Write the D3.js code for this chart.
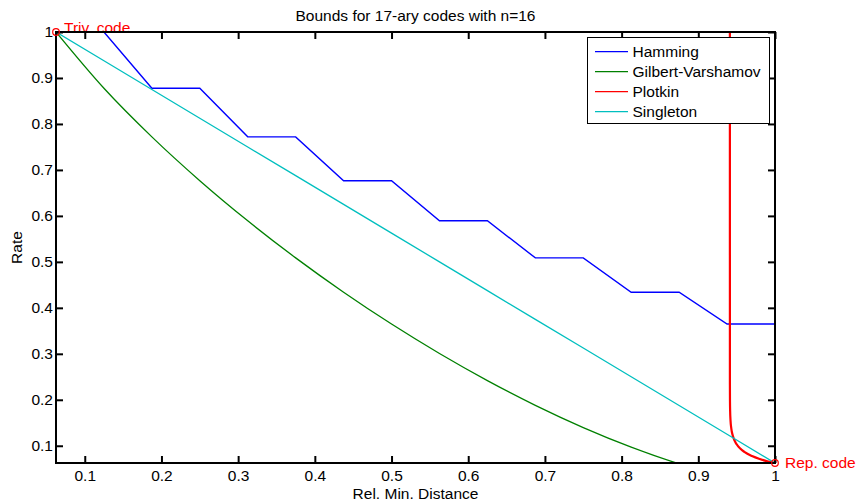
<!DOCTYPE html>
<html>
<head>
<meta charset="utf-8">
<script src="https://cdn.jsdelivr.net/npm/d3@7"></script>
<style>
  html, body { margin: 0; padding: 0; background: #fff; }
  svg { display: block; font-family: "Liberation Sans", Arial, Helvetica, sans-serif; }
</style>
</head>
<body>
<svg id="chart" width="859" height="502"></svg>
<script>
// ---- data (n = 16, q = 17) ----
const relDist = [0.0625, 0.125, 0.1875, 0.25, 0.3125, 0.375, 0.4375, 0.5,
                 0.5625, 0.625, 0.6875, 0.75, 0.8125, 0.875, 0.9375, 1];
const hamming = [1, 1, 0.8776, 0.8776, 0.7719, 0.7719, 0.6766, 0.6766,
                 0.5893, 0.5893, 0.5087, 0.5087, 0.4340, 0.4340, 0.3647, 0.3647];
const gilbertVarshamov = [1, 0.8776, 0.7719, 0.6766, 0.5893, 0.5087, 0.4340, 0.3647,
                          0.3007, 0.2418, 0.1880, 0.1396, 0.0970, 0.0606, 0.0313, 0.0105];
const singleton = [1, 0.9375, 0.875, 0.8125, 0.75, 0.6875, 0.625, 0.5625,
                   0.5, 0.4375, 0.375, 0.3125, 0.25, 0.1875, 0.125, 0.0625];
const plotkinDist = [0.941177, 0.9412, 0.9413, 0.9415, 0.942, 0.943, 0.945, 0.95,
                     0.955, 0.96, 0.97, 0.98, 0.99, 1];
const plotkinRate = [1.05, 0.2338, 0.197, 0.176, 0.1553, 0.1378, 0.1216, 0.1032,
                     0.0934, 0.0867, 0.0776, 0.0712, 0.0664, 0.0625];
const xTicks = [0.1, 0.2, 0.3, 0.4, 0.5, 0.6, 0.7, 0.8, 0.9, 1];
const yTicks = [0.1, 0.2, 0.3, 0.4, 0.5, 0.6, 0.7, 0.8, 0.9, 1];
const seriesNames = ["Hamming", "Gilbert-Varshamov", "Plotkin", "Singleton"];
const seriesColors = ["#0000ff", "#008000", "#ff0000", "#00bfbf"];
const markers = [{x: 0.0625, y: 1, label: "Triv. code"}, {x: 1, y: 0.0625, label: "Rep. code"}];
const titleText = "Bounds for 17-ary codes with n=16";
const xLabelText = "Rel. Min. Distance";
const yLabelText = "Rate";

// ---- layout ----
const L = 56, R = 775, T = 32, B = 463;
const FS = "15.5px";
const svg = d3.select("#chart");
const x = d3.scaleLinear().domain([0.0625, 1]).range([L, R]);
const y = d3.scaleLinear().domain([0.0625, 1]).range([B, T]);

svg.append("defs").append("clipPath").attr("id", "plotclip")
  .append("rect").attr("x", L).attr("y", T).attr("width", R - L).attr("height", B - T);

const line = d3.line().x(d => x(d[0])).y(d => y(d[1]));
const smooth = d3.line().x(d => x(d[0])).y(d => y(d[1])).curve(d3.curveMonotoneX);

const plot = svg.append("g").attr("clip-path", "url(#plotclip)");
const series = [
  {pts: relDist.map((d, i) => [d, hamming[i]]), gen: line, w: 1.4},
  {pts: relDist.map((d, i) => [d, gilbertVarshamov[i]]), gen: smooth, w: 1.3},
  {pts: plotkinDist.map((d, i) => [d, plotkinRate[i]]), gen: smooth, w: 2.2},
  {pts: relDist.map((d, i) => [d, singleton[i]]), gen: line, w: 1.3}
];
series.forEach((s, i) => {
  plot.append("path").attr("d", s.gen(s.pts)).attr("fill", "none")
    .attr("stroke", seriesColors[i]).attr("stroke-width", s.w);
});

// marker labels (drawn below axes)
markers.forEach((m, i) => {
  svg.append("text").attr("x", x(m.x) + (i === 0 ? 8 : 10)).attr("y", i === 0 ? y(m.y) + 1 : y(m.y) + 5)
    .attr("fill", "#ff0000").attr("font-size", FS).text(m.label);
});

// axes
const axBottom = d3.axisBottom(x).tickValues(xTicks).tickFormat(d3.format("")).tickSizeInner(-7).tickSizeOuter(0).tickPadding(7);
const axLeft = d3.axisLeft(y).tickValues(yTicks).tickFormat(d3.format("")).tickSizeInner(-7).tickSizeOuter(0).tickPadding(3);
const axTop = d3.axisTop(x).tickValues(xTicks).tickFormat("").tickSizeInner(-7).tickSizeOuter(0);
const axRight = d3.axisRight(y).tickValues(yTicks).tickFormat("").tickSizeInner(-7).tickSizeOuter(0);

function styleAxis(g) {
  g.select(".domain").remove();
  g.selectAll(".tick line").attr("stroke", "#000").attr("stroke-width", 2);
  g.selectAll(".tick text").attr("fill", "#000").attr("font-size", FS)
    .attr("font-family", "Liberation Sans, Arial, sans-serif");
}
svg.append("g").attr("transform", `translate(0,${B})`).call(axBottom).call(styleAxis);
svg.append("g").attr("transform", `translate(${L},0)`).call(axLeft).call(styleAxis);
svg.append("g").attr("transform", `translate(0,${T})`).call(axTop).call(styleAxis);
svg.append("g").attr("transform", `translate(${R},0)`).call(axRight).call(styleAxis);

svg.append("rect").attr("x", L).attr("y", T).attr("width", R - L).attr("height", B - T)
  .attr("fill", "none").attr("stroke", "#000").attr("stroke-width", 2);

// marker circles
markers.forEach(m => {
  svg.append("circle").attr("cx", x(m.x)).attr("cy", y(m.y)).attr("r", 3.3)
    .attr("fill", "none").attr("stroke", "#ff0000").attr("stroke-width", 1.2);
});

// legend
const lg = svg.append("g");
lg.append("rect").attr("x", 587.5).attr("y", 37.5).attr("width", 182).attr("height", 86)
  .attr("fill", "#fff").attr("stroke", "#000").attr("stroke-width", 1);
seriesNames.forEach((n, i) => {
  const cy = 51.7 + i * 20;
  lg.append("line").attr("x1", 595).attr("x2", 628).attr("y1", cy).attr("y2", cy)
    .attr("stroke", seriesColors[i]).attr("stroke-width", 1.3);
  lg.append("text").attr("x", 632.5).attr("y", cy).attr("dy", "0.35em")
    .attr("font-size", FS).attr("fill", "#000").text(n);
});

// titles
svg.append("text").attr("x", (L + R) / 2).attr("y", 21).attr("text-anchor", "middle")
  .attr("font-size", FS).attr("fill", "#000").text(titleText);
svg.append("text").attr("x", (L + R) / 2).attr("y", 499).attr("text-anchor", "middle")
  .attr("font-size", FS).attr("fill", "#000").text(xLabelText);
svg.append("text").attr("transform", `translate(22,${(T + B) / 2}) rotate(-90)`)
  .attr("text-anchor", "middle").attr("font-size", FS).attr("fill", "#000").text(yLabelText);
</script>
</body>
</html>
